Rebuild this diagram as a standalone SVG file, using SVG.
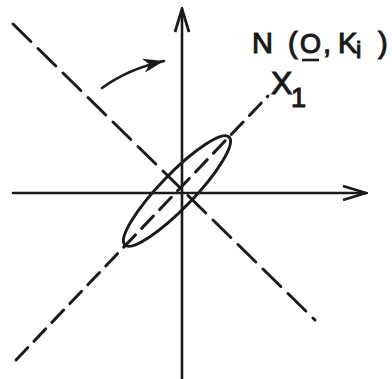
<svg xmlns="http://www.w3.org/2000/svg" width="392" height="379" viewBox="0 0 392 379">
<style>
.ax{stroke:#1a1a1a;stroke-width:2.6;fill:none;stroke-linecap:round}
.d1{stroke:#1a1a1a;stroke-width:3;fill:none;stroke-dasharray:25 10;stroke-linecap:round}
.d2{stroke:#1a1a1a;stroke-width:3;fill:none;stroke-dasharray:17 9;stroke-linecap:round}
.t{font-family:"Liberation Sans",Arial,sans-serif;fill:#1a1a1a;stroke:#1a1a1a;stroke-width:1.1}
</style>
<defs>
<marker id="open" viewBox="0 0 26 18" refX="24" refY="9" markerWidth="26" markerHeight="18" markerUnits="userSpaceOnUse" orient="auto">
<path d="M1,2 L24,9 L1,16" fill="none" stroke="#1a1a1a" stroke-width="2.8" stroke-linejoin="miter"/>
</marker>
<marker id="solid" viewBox="0 0 22 16" refX="21" refY="8" markerWidth="22" markerHeight="16" markerUnits="userSpaceOnUse" orient="auto">
<path d="M0,1 L21,8 L0,15 L6,8 z" fill="#1a1a1a"/>
</marker>
</defs>
<rect width="392" height="379" fill="#ffffff"/>
<g id="axes">
<line class="ax" x1="182" y1="379" x2="182" y2="9" marker-end="url(#open)"/>
<line class="ax" x1="13" y1="193" x2="366" y2="193" marker-end="url(#open)"/>
</g>
<g id="dashed-axes">
<line class="d1" x1="13" y1="24" x2="315" y2="320"/>
<line class="d2" x1="16" y1="360" x2="268" y2="96"/>
</g>
<g id="ellipse">
<ellipse cx="0" cy="0" rx="75" ry="17" transform="translate(177,191) rotate(-46)" fill="none" stroke="#1a1a1a" stroke-width="3"/>
</g>
<g id="rotation-arrow">
<path class="ax" d="M102,88 Q128,69 164,61" stroke-width="3" marker-end="url(#solid)"/>
</g>
<g id="labels">
<text class="t" x="252" y="53" font-size="29">N</text>
<text class="t" x="288" y="53" font-size="29">(</text>
<text class="t" x="300" y="53" font-size="27">O</text>
<line x1="302" y1="60" x2="319" y2="60" stroke="#1a1a1a" stroke-width="2.6"/>
<text class="t" x="323" y="53" font-size="29">,</text>
<text class="t" x="338" y="53" font-size="29">K</text>
<text class="t" x="356" y="58" font-size="24">i</text>
<text class="t" x="378" y="53" font-size="29">)</text>
<text class="t" x="271" y="94" font-size="32">X</text>
<text class="t" x="291" y="107" font-size="27">1</text>
</g>
</svg>
